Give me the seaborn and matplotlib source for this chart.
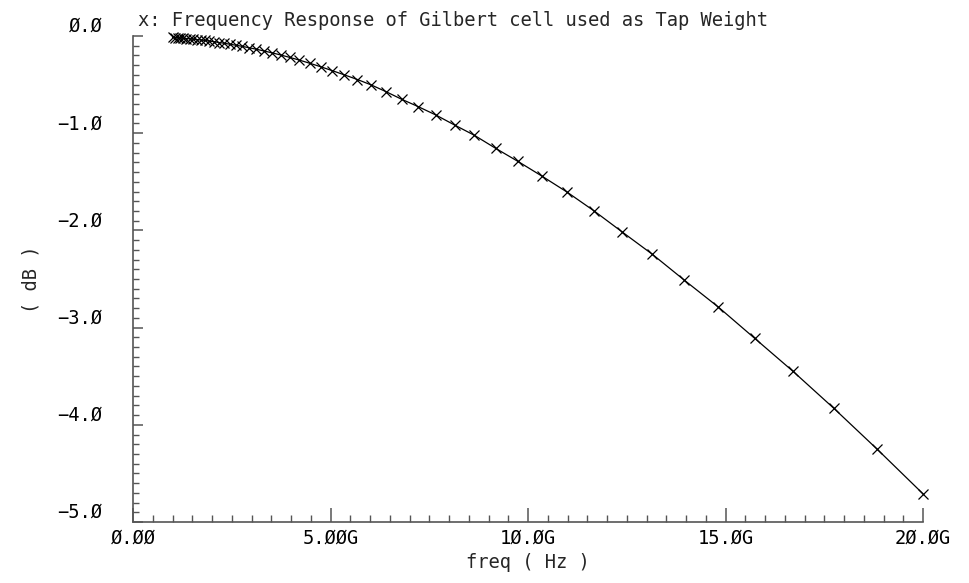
import numpy as np
import pandas as pd
import matplotlib
matplotlib.use("Agg")
import matplotlib.pyplot as plt
from matplotlib.ticker import FixedLocator, FixedFormatter, MultipleLocator
import seaborn as sns

# ---- data ----
freq_ghz = [1.000, 1.0617, 1.1273, 1.1968, 1.2707, 1.3493, 1.4325, 1.5210, 1.6149, 1.7146,
            1.8205, 1.9329, 2.0522, 2.1790, 2.3135, 2.4564, 2.6081, 2.7691, 2.9401, 3.1216,
            3.3144, 3.5190, 3.7363, 3.9670, 4.2119, 4.4721, 4.7482, 5.0414, 5.3527, 5.6832,
            6.0342, 6.4067, 6.8023, 7.2223, 7.6683, 8.1418, 8.6445, 9.1783, 9.7450, 10.3467,
            10.9856, 11.6639, 12.3841, 13.1488, 13.9607, 14.8227, 15.7380, 16.7098, 17.7415,
            18.8370, 20.000]
gain_db = [-0.014, -0.016, -0.018, -0.020, -0.023, -0.026, -0.029, -0.032, -0.037, -0.041,
           -0.046, -0.052, -0.059, -0.067, -0.075, -0.085, -0.095, -0.107, -0.121, -0.136,
           -0.154, -0.173, -0.195, -0.220, -0.248, -0.280, -0.316, -0.356, -0.400, -0.448,
           -0.504, -0.573, -0.651, -0.727, -0.813, -0.916, -1.022, -1.155, -1.290, -1.440,
           -1.605, -1.797, -2.016, -2.246, -2.513, -2.790, -3.110, -3.450, -3.830,
           -4.250, -4.710]

x_ticks_ghz = [0, 5, 10, 15, 20]
x_tick_labels = ["Ø.ØØ", "5.ØØG", "1Ø.ØG", "15.ØG", "2Ø.ØG"]
y_ticks = [0, -1, -2, -3, -4, -5]
y_tick_labels = ["Ø.Ø", "\u22121.Ø", "\u22122.Ø", "\u22123.Ø", "\u22124.Ø", "\u22125.Ø"]

title_text = "x: Frequency Response of Gilbert cell used as Tap Weight"
x_label = "freq ( Hz )"
y_label = "( dB )"

df = pd.DataFrame({"freq": np.array(freq_ghz) * 1e9, "db": gain_db})

# ---- style ----
sns.set_style("white")
plt.rcParams["font.family"] = ["DejaVu Sans Mono", "DejaVu Sans"]

fig = plt.figure(figsize=(9.69, 5.83), dpi=100)
ax = fig.add_axes([133 / 969, 1 - 522 / 583, (923 - 133) / 969, (522 - 36) / 583])

sns.lineplot(data=df, x="freq", y="db", ax=ax, color="black", linewidth=0.9,
             marker="x", markersize=7.5, markeredgewidth=0.9, markeredgecolor="black")
for ln in ax.lines:
    ln.set_clip_on(False)

ax.set_xlim(0, 20e9)
ax.set_ylim(-5, 0)

spine_col = "#555555"
for side in ["top", "right"]:
    ax.spines[side].set_visible(False)
for side in ["left", "bottom"]:
    ax.spines[side].set_color(spine_col)
    ax.spines[side].set_linewidth(1.2)

ax.xaxis.set_major_locator(FixedLocator([v * 1e9 for v in x_ticks_ghz]))
ax.xaxis.set_major_formatter(FixedFormatter(x_tick_labels))
ax.xaxis.set_minor_locator(MultipleLocator(0.5e9))
ax.yaxis.set_major_locator(FixedLocator(y_ticks))
ax.yaxis.set_major_formatter(FixedFormatter(y_tick_labels))
ax.yaxis.set_minor_locator(MultipleLocator(0.1))

ax.tick_params(axis="x", which="major", direction="in", length=10, width=1.1,
               color=spine_col, labelsize=13.5, pad=5, labelcolor="black")
ax.tick_params(axis="x", which="minor", direction="in", length=5, width=1.0, color=spine_col)
ax.tick_params(axis="y", which="major", direction="in", length=7, width=1.1,
               color=spine_col, labelsize=13.5, pad=22, labelcolor="black")
ax.tick_params(axis="y", which="minor", direction="in", length=4, width=1.0, color=spine_col)
ax.tick_params(axis="both", which="both", bottom=True, left=True, top=False, right=False)

for lbl in ax.get_yticklabels():
    lbl.set_verticalalignment("bottom")

ax.set_xlabel(x_label, fontsize=13.5, labelpad=4)
ax.set_ylabel(y_label, fontsize=13.5, labelpad=12)
ax.text(138 / 969, 1 - 20 / 583, title_text, transform=fig.transFigure,
        fontsize=13.5, ha="left", va="center")

ax.grid(False)
fig.savefig("out.png", dpi=100, facecolor="white")
